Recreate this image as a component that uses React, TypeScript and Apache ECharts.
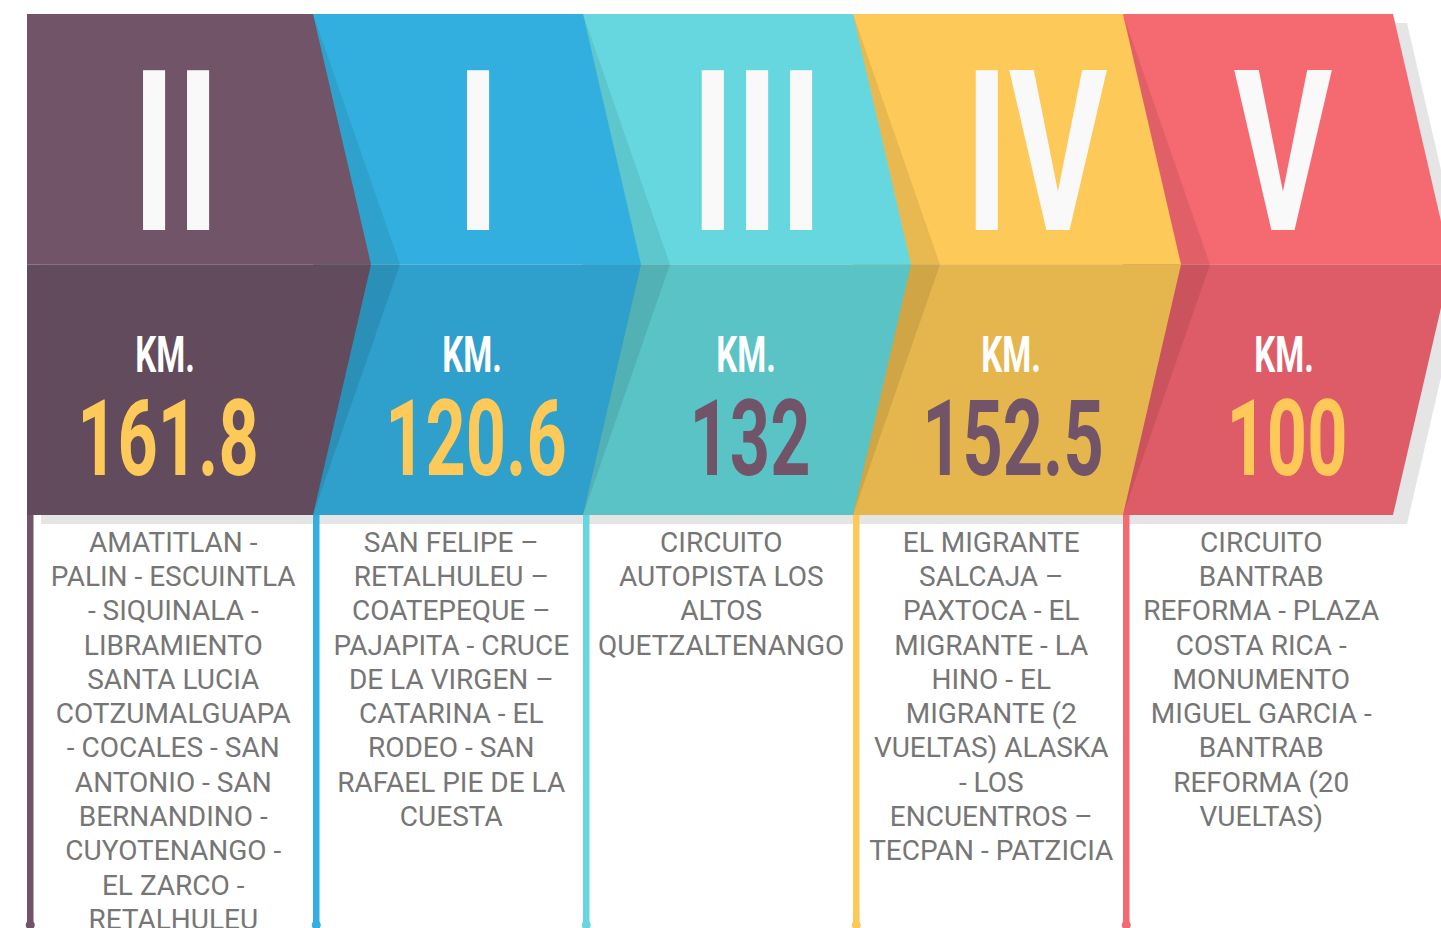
import React, { useEffect, useRef } from "react";
import * as echarts from "echarts";

// ---- data ----
const romans = ["II", "I", "III", "IV", "V"];
const kmValues = [161.8, 120.6, 132, 152.5, 100];
const kmLabels = ["161.8", "120.6", "132", "152.5", "100"];
const routes = [
  "AMATITLAN -\nPALIN - ESCUINTLA\n- SIQUINALA -\nLIBRAMIENTO\nSANTA LUCIA\nCOTZUMALGUAPA\n- COCALES - SAN\nANTONIO - SAN\nBERNANDINO -\nCUYOTENANGO -\nEL ZARCO -\nRETALHULEU",
  "SAN FELIPE –\nRETALHULEU –\nCOATEPEQUE –\nPAJAPITA - CRUCE\nDE LA VIRGEN –\nCATARINA - EL\nRODEO - SAN\nRAFAEL PIE DE LA\nCUESTA",
  "CIRCUITO\nAUTOPISTA LOS\nALTOS\nQUETZALTENANGO",
  "EL MIGRANTE\nSALCAJA –\nPAXTOCA - EL\nMIGRANTE - LA\nHINO - EL\nMIGRANTE (2\nVUELTAS) ALASKA\n- LOS\nENCUENTROS –\nTECPAN - PATZICIA",
  "CIRCUITO\nBANTRAB\nREFORMA - PLAZA\nCOSTA RICA -\nMONUMENTO\nMIGUEL GARCIA -\nBANTRAB\nREFORMA (20\nVUELTAS)",
];
const kmLabel = "KM.";

// ---- styles ----
const topColors = ["#725468", "#33AFDF", "#67D7DF", "#FDC958", "#F56970"];
const bottomColors = ["#614B5C", "#2F9FCB", "#5AC3C6", "#E5B64D", "#DE5C67"];
const valueColors = ["#FDC958", "#FDC958", "#725468", "#725468", "#FDC958"];
const SHADOW_GRAY = "#E5E5E5";
const TEXT_GRAY = "#767676";
const WHITE = "#F9F9F9";

// ---- layout ----
const W = 1441;
const H = 928;
const CHEVRON = 58;
const BAND = 87;
const FIRST_EXTRA = 16;
const SH_DX = 14;
const SH_DY = 9;
const LINE_W = 6.5;
const LINE_BOTTOM = 925;
const numeralDx = [-2, 30, 39, 48, 25];
const valueDx = [-10, 28, 32, 25, 29];
const kmDx = [-13, 24, 28, 23, 26];

const NUM_FONT_SIZE = 224;
const VAL_FONT_SIZE = 105;
const KM_FONT_SIZE = 50;
const DESC_FONT_SIZE = 28;
const DESC_LINE_H = 34.3;

function inkWidth(text: string, font: string): number {
  const c = document.createElement("canvas");
  const ctx = c.getContext("2d");
  if (!ctx) return text.length * 10;
  ctx.font = font;
  const m = ctx.measureText(text);
  const w = (m.actualBoundingBoxLeft || 0) + (m.actualBoundingBoxRight || 0);
  return w > 0 ? w : m.width;
}

export default function App() {
  const ref = useRef<HTMLDivElement>(null);
  useEffect(() => {
    if (!ref.current) return;
    const chart = echarts.init(ref.current, undefined, { renderer: "svg" });

    const numFont = `bold ${NUM_FONT_SIZE}px Roboto`;
    const valFont = `bold ${VAL_FONT_SIZE}px Roboto`;
    const kmFont = `bold ${KM_FONT_SIZE}px Roboto`;
    const numScale = 111 / inkWidth("III", numFont);
    const valScale = 174 / inkWidth("120.6", valFont);
    const kmScale = 56 / inkWidth(kmLabel, kmFont);
    const N = romans.length;

    const option: any = {
      animation: false,
      backgroundColor: "#ffffff",
      grid: { left: 43, top: 14, width: 1350, height: 501 },
      xAxis: { type: "category", data: romans, show: false, boundaryGap: true },
      yAxis: { type: "value", min: 0, max: 100, show: false },
      series: [
        {
          type: "custom",
          data: kmValues.map((v, i) => [i, v]),
          clip: false,
          renderItem: (params: any, api: any) => {
            const i = params.dataIndex;
            const top = api.coord([i, 100]);
            const mid = api.coord([i, 50]);
            const bot = api.coord([i, 0]);
            const bw = api.size([1, 0])[0];
            const bandLeft = top[0] - bw / 2;
            const left = i === 0 ? bandLeft - FIRST_EXTRA : bandLeft;
            const right = bandLeft + bw;
            const yT = top[1];
            const yM = mid[1];
            const yB = bot[1];
            const zBase = (N - i) * 10;
            const center = top[0];
            const children: any[] = [];
            const full = [
              [left, yT],
              [right, yT],
              [right + CHEVRON, yM],
              [right, yB],
              [left, yB],
            ];
            children.push({
              type: "polygon",
              z2: 0,
              shape: { points: full.map((p) => [p[0] + SH_DX, p[1] + SH_DY]) },
              style: { fill: SHADOW_GRAY },
            });
            children.push({
              type: "polygon",
              z2: zBase + 1,
              shape: { points: [[left, yT], [right, yT], [right + CHEVRON, yM], [left, yM]] },
              style: { fill: topColors[i] },
            });
            children.push({
              type: "polygon",
              z2: zBase + 1,
              shape: { points: [[left, yM], [right + CHEVRON, yM], [right, yB], [left, yB]] },
              style: { fill: bottomColors[i] },
            });
            if (i > 0) {
              children.push({
                type: "polygon",
                z2: zBase + 2,
                shape: { points: [[left, yT], [left + BAND, yM], [left, yM]] },
                style: { fill: "rgba(0,0,0,0.08)" },
              });
              children.push({
                type: "polygon",
                z2: zBase + 2,
                shape: { points: [[left, yM], [left + BAND, yM], [left, yB]] },
                style: { fill: "rgba(0,0,0,0.09)" },
              });
            }
            children.push({
              type: "rect",
              z2: 100,
              shape: { x: left, y: yB, width: LINE_W, height: LINE_BOTTOM - yB },
              style: { fill: topColors[i] },
            });
            children.push({
              type: "circle",
              z2: 100,
              shape: { cx: left + LINE_W / 2, cy: LINE_BOTTOM, r: 4.5 },
              style: { fill: topColors[i] },
            });
            children.push({
              type: "text",
              z2: 200,
              x: center + numeralDx[i],
              y: yT + (yM - yT) * 0.54 + 4,
              scaleX: numScale,
              style: {
                text: romans[i],
                fill: WHITE,
                font: numFont,
                align: "center",
                verticalAlign: "middle",
              },
            });
            children.push({
              type: "text",
              z2: 200,
              x: center + kmDx[i],
              y: yM + 90.5,
              scaleX: kmScale,
              style: {
                text: kmLabel,
                fill: "#FFFFFF",
                font: kmFont,
                align: "center",
                verticalAlign: "middle",
              },
            });
            children.push({
              type: "text",
              z2: 200,
              x: center + valueDx[i],
              y: yM + 175,
              scaleX: valScale,
              style: {
                text: kmLabels[i],
                fill: valueColors[i],
                font: valFont,
                align: "center",
                verticalAlign: "middle",
              },
            });
            const colCenter = (left + LINE_W + right) / 2;
            children.push({
              type: "text",
              z2: 200,
              x: colCenter,
              y: yB + 10,
              style: {
                text: routes[i],
                fill: TEXT_GRAY,
                fontFamily: "Roboto",
                fontSize: DESC_FONT_SIZE,
                lineHeight: DESC_LINE_H,
                align: "center",
                verticalAlign: "top",
              },
            });
            return { type: "group", children };
          },
        },
      ],
    };
    chart.setOption(option);
    return () => chart.dispose();
  }, []);
  return (
    <div
      ref={ref}
      style={{ position: "fixed", left: 0, top: 0, width: W, height: H, background: "#fff" }}
    />
  );
}
